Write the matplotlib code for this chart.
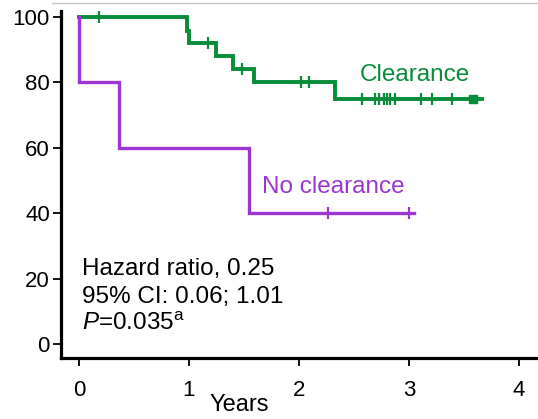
import numpy as np
import matplotlib.pyplot as plt
from matplotlib.lines import Line2D

plt.rcParams['font.family'] = ['Liberation Sans', 'DejaVu Sans']
plt.rcParams['mathtext.fontset'] = 'custom'
plt.rcParams['mathtext.rm'] = 'Liberation Sans'
plt.rcParams['mathtext.it'] = 'Liberation Sans:italic'

# Kaplan-Meier step data (years, % survival)
clear_t = [0, 0.98, 1.0, 1.245, 1.40, 1.59, 2.33, 3.66]
clear_s = [100, 95.8, 92, 88, 84, 80, 75, 75]
clear_cens = [0.18, 1.17, 1.48, 2.015, 2.09, 2.57, 2.69, 2.73, 2.77, 2.80,
              2.83, 2.87, 3.11, 3.21, 3.39]
clear_last = [3.585]

noclear_t = [0, 0, 0.367, 1.55, 3.05]
noclear_s = [100, 80, 60, 40, 40]
noclear_cens = [2.26, 3.0]

green = '#078c3a'
purple = '#9b35d3'


def surv_at(t, times, surv):
    idx = np.searchsorted(times, t, side='right') - 1
    return np.asarray(surv)[idx]


fig = plt.figure(figsize=(5.38, 4.19), dpi=100)
ax = fig.add_axes([61 / 538, 61 / 419, 475 / 538, 347 / 419])

ax.plot(clear_t, clear_s, drawstyle='steps-post', color=green, lw=2.8,
        solid_joinstyle='miter')
ax.plot(noclear_t, noclear_s, drawstyle='steps-post', color=purple, lw=2.4,
        solid_joinstyle='miter')
ax.plot(clear_cens, surv_at(clear_cens, clear_t, clear_s), ls='none',
        marker='|', ms=9, mew=1.6, color=green)
ax.plot(clear_last, surv_at(clear_last, clear_t, clear_s), ls='none',
        marker='s', ms=6, color=green)
ax.plot(noclear_cens, surv_at(noclear_cens, noclear_t, noclear_s), ls='none',
        marker='|', ms=9, mew=1.6, color=purple)

ax.set_xlim(-0.1636, 4.155)
ax.set_ylim(-4.3, 101.8)
ax.set_xticks([0, 1, 2, 3, 4])
ax.set_yticks([0, 20, 40, 60, 80, 100])
ax.tick_params(labelsize=16, width=1.3, length=6, pad=2, color='black')
ax.tick_params(axis='x', pad=10)
for side in ['top', 'right']:
    ax.spines[side].set_visible(False)
for side in ['left', 'bottom']:
    ax.spines[side].set_linewidth(2.3)

ax.text(2.555, 80.4, 'Clearance', color=green, fontsize=17.5)
ax.text(1.664, 46.3, 'No clearance', color=purple, fontsize=17.5)

ax.text(0.03, 21.2, 'Hazard ratio, 0.25', fontsize=17.5)
ax.text(0.03, 12.6, '95% CI: 0.06; 1.01', fontsize=17.5)
ax.text(0.03, 4.3, r'$\mathit{P}$=0.035$^{\mathrm{a}}$', fontsize=17.5)

fig.text(239 / 538, 1 - 405 / 419, 'Years', fontsize=17,
         ha='center', va='center')

fig.add_artist(Line2D([52 / 538, 1], [1 - 3 / 419, 1 - 3 / 419],
                      color='#c8c8c8', lw=1, transform=fig.transFigure))

fig.savefig('out.png', dpi=100)
